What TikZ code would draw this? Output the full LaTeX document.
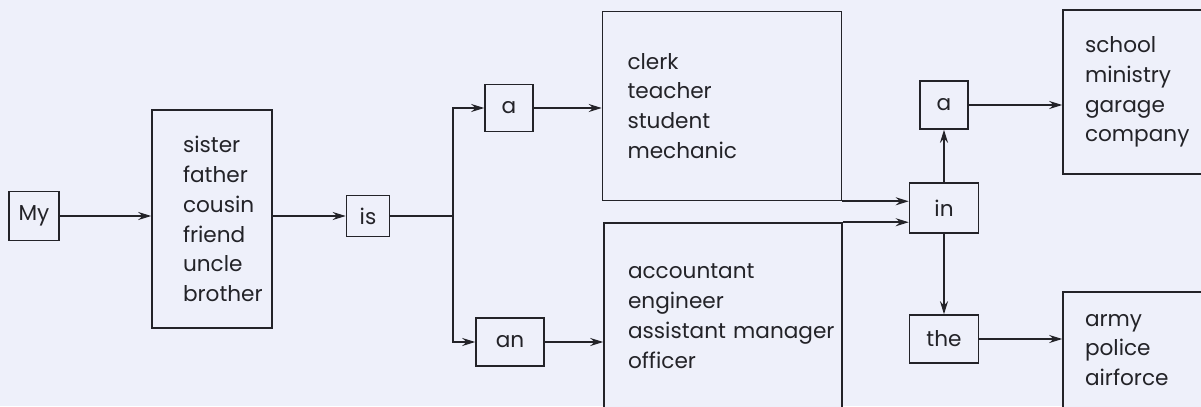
\documentclass[tikz,border=0pt]{standalone}
\usepackage{fontspec}
\setmainfont{Poppins}
\usetikzlibrary{positioning, calc, arrows.meta}
\definecolor{paper}{RGB}{238,240,250}
\definecolor{ink}{RGB}{35,35,40}
\begin{document}
\begin{tikzpicture}[
        x=0.02cm, y=-0.02cm,
        font=\fontsize{12.3}{17}\selectfont,
        box/.style={rectangle, draw=ink, line width=0.9pt, fill=paper, text=ink, inner sep=0pt},
        listbox/.style={box, align=left, inner ysep=0pt},
        arrow/.style={-{Stealth[length=2.6mm,width=1.6mm]}, draw=ink, line width=0.9pt}
    ]
        \path[use as bounding box, fill=paper] (0,0) rectangle (1201,406);
        \clip (0,0) rectangle (1201,406);

        % Word boxes
        \node[box, minimum width=1.0cm, minimum height=0.98cm] (my) at (34,216) {My};
        \node[box, minimum width=0.86cm, minimum height=0.82cm] (is) at (368,216) {is};
        \node[box, minimum width=0.96cm, minimum height=0.94cm] (a) at (509,108) {a};
        \node[box, minimum width=1.36cm, minimum height=0.96cm] (an) at (510,342) {an};
        \node[box, minimum width=1.38cm, minimum height=1.0cm] (in) at (944,208) {in};
        \node[box, minimum width=0.96cm, minimum height=0.96cm] (ain) at (944,105) {a};
        \node[box, minimum width=1.38cm, minimum height=0.96cm] (the) at (944,339) {the};

        % List boxes
        \node[listbox, minimum height=4.36cm, inner xsep=0.62cm, text width=1.16cm] (people) at (212,219)
            {sister\\father\\cousin\\friend\\uncle\\brother};
        \node[listbox, minimum height=3.78cm, inner xsep=0.5cm, text width=3.78cm] (jobs) at (722,106)
            {clerk\\teacher\\student\\mechanic};
        \node[listbox, minimum height=3.72cm, inner xsep=0.48cm, text width=3.8cm] (posts) at (723,316)
            {accountant\\engineer\\\mbox{assistant manager}\\officer};
        \node[listbox, minimum height=3.28cm, inner xsep=0.44cm, text width=2.32cm] (places) at (1143,92)
            {school\\ministry\\garage\\company};
        \node[listbox, minimum height=2.32cm, inner xsep=0.44cm, text width=2.32cm] (forces) at (1143,350)
            {army\\police\\airforce};

        \coordinate (split) at (453,216);

        % Connectors
        \draw[arrow] (my) -- (my -| people.west);
        \draw[arrow] (is -| people.east) -- (is);
        \draw[line width=0.9pt, draw=ink] (is) -- (split);
        \draw[arrow] (split) |- (a);
        \draw[arrow] (split) |- (an);
        \draw[arrow] (a) -- (a -| jobs.west);
        \draw[arrow] (an) -- (an -| posts.west);
        \draw[arrow] (jobs.south east) -- (jobs.south -| in.west);
        \draw[arrow] (posts.north east) -- (posts.north -| in.west);
        \draw[arrow] (in) -- (ain);
        \draw[arrow] (in) -- (the);
        \draw[arrow] (ain) -- (ain -| places.west);
        \draw[arrow] (the) -- (the -| forces.west);
    \end{tikzpicture}
\end{document}
